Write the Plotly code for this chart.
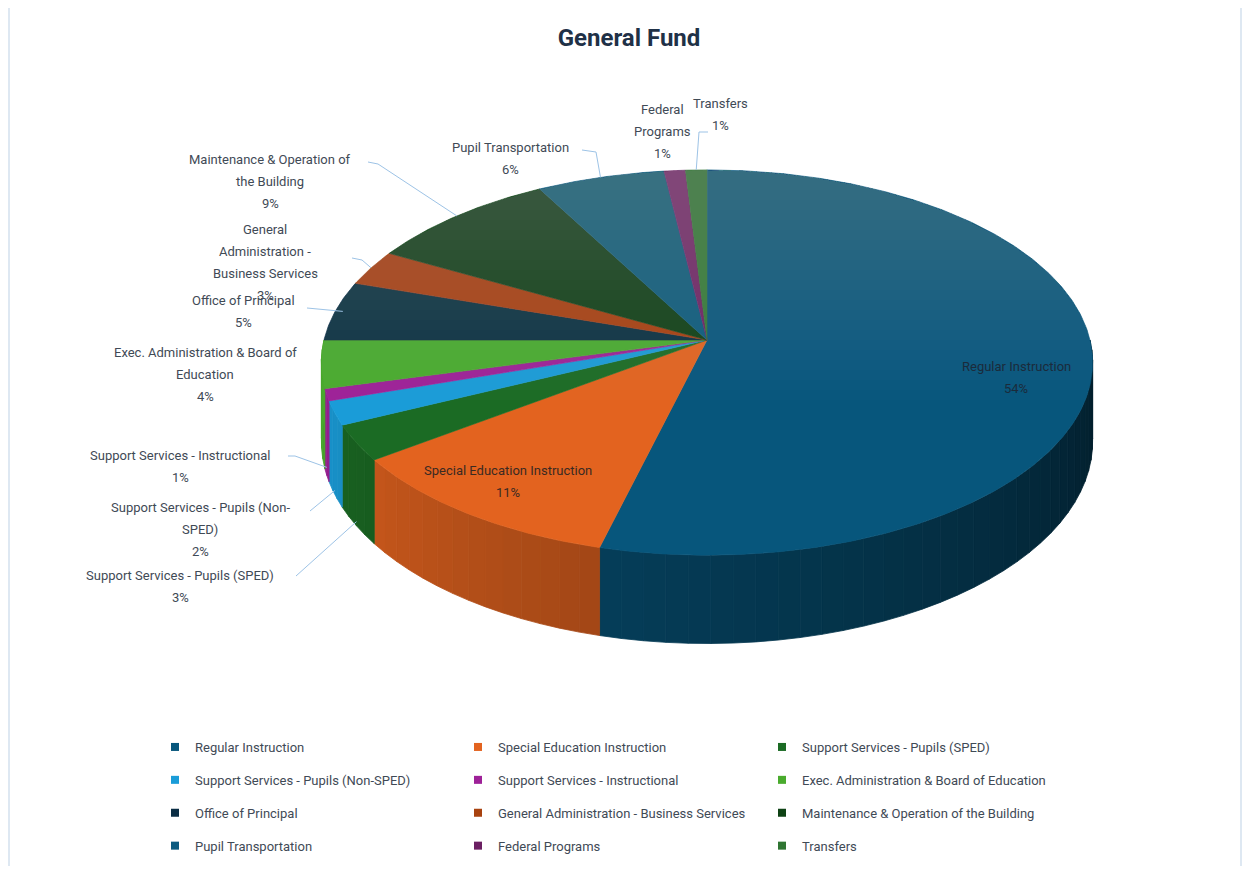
import numpy as np
import plotly.graph_objects as go

# ---------------- data ----------------
categories = [
    "Regular Instruction",
    "Special Education Instruction",
    "Support Services - Pupils (SPED)",
    "Support Services - Pupils (Non-SPED)",
    "Support Services - Instructional",
    "Exec. Administration & Board of Education",
    "Office of Principal",
    "General Administration - Business Services",
    "Maintenance & Operation of the Building",
    "Pupil Transportation",
    "Federal Programs",
    "Transfers",
]
percent_values = [54, 11, 3, 2, 1, 4, 5, 3, 9, 6, 1, 1]
slice_colors = [
    "#07567C", "#E3631F", "#1B6B24", "#1A9CD8", "#9E2198", "#4AAB2D",
    "#0A2D44", "#A8420F", "#0E4214", "#0B5A80", "#6B1F62", "#2F7532",
]
wrapped_labels = [
    "Regular Instruction",
    "Special Education Instruction",
    "Support Services - Pupils (SPED)",
    "Support Services - Pupils (Non-<br>SPED)",
    "Support Services - Instructional",
    "Exec. Administration & Board of<br>Education",
    "Office of Principal",
    "General<br>Administration -<br>Business Services",
    "Maintenance & Operation of<br>the Building",
    "Pupil Transportation",
    "Federal<br>Programs",
    "Transfers",
]
chart_title = "General Fund"

# ---------------- geometry / style (screen-pixel space) ----------------
OFF = 8                       # page body margin
FW, FH = 1234, 858            # figure size (fits window with the margins)
CX, CY = 707, 340             # apex of the pie
A, B = 383, 190               # horizontal / vertical radius
P = 0.117                     # perspective strength
DEPTH = 78                    # thickness of the 3D pie
FONT = "Roboto, 'Open Sans', sans-serif"
TEXT_COLOR = "#3F4A56"
LEADER_COLOR = "#9DC3E6"
LINE_GAP = 22


def px_x(px):
    return (px - OFF) / FW


def px_y(py):
    return 1 - (py - OFF) / FH


def proj(theta_deg, r=1.0, drop=0.0):
    t = np.radians(theta_deg)
    u = r * np.sin(t)
    v = r * np.cos(t)
    s = 1.0 / (1.0 + P * v)
    return CX + A * u * s, CY - B * v * s + drop * s


def shade(hexcol, f):
    h = hexcol.lstrip("#")
    rgb = [int(h[i:i + 2], 16) for i in (0, 2, 4)]
    rgb = [max(0, min(255, int(round(c * f)))) for c in rgb]
    return "rgb({},{},{})".format(*rgb)


def clip_above(xs, ys, yk):
    out_x, out_y = [], []
    n = len(xs)
    for j in range(n):
        x1, y1 = xs[j], ys[j]
        x0, y0 = xs[j - 1], ys[j - 1]
        in1, in0 = y1 <= yk, y0 <= yk
        if in1 != in0:
            t = (yk - y0) / (y1 - y0)
            out_x.append(x0 + t * (x1 - x0))
            out_y.append(yk)
        if in1:
            out_x.append(x1)
            out_y.append(y1)
    return out_x, out_y


vals = np.array(percent_values, dtype=float)
ends = np.cumsum(vals) / vals.sum() * 360.0
starts = np.concatenate([[0.0], ends[:-1]])
mids = (starts + ends) / 2

fig = go.Figure()

# side walls (front half only: 90..270 deg)
for i, (a0, a1) in enumerate(zip(starts, ends)):
    lo, hi = max(a0, 90.0), min(a1, 270.0)
    if hi <= lo:
        continue
    nb = max(1, int(np.ceil((hi - lo) / 3.0)))
    edges = np.linspace(lo, hi, nb + 1)
    for b0, b1 in zip(edges[:-1], edges[1:]):
        th = np.linspace(b0, b1, 8)
        tx, ty = proj(th)
        bx, by = proj(th[::-1], 1.0, DEPTH)
        xs = np.concatenate([tx, bx, tx[:1]])
        ys = np.concatenate([ty, by, ty[:1]])
        f = 0.33 + 0.0037 * ((b0 + b1) / 2 - 90)
        col = shade(slice_colors[i], f)
        fig.add_trace(go.Scatter(
            x=xs, y=ys, mode="lines", fill="toself", fillcolor=col,
            line=dict(color=col, width=0.8), hoverinfo="skip", showlegend=False))

# top faces
for i, (a0, a1) in enumerate(zip(starts, ends)):
    th = np.linspace(a0, a1, max(4, int((a1 - a0) * 2)))
    ax, ay = proj(th)
    xs = np.concatenate([[CX], ax, [CX]])
    ys = np.concatenate([[CY], ay, [CY]])
    fig.add_trace(go.Scatter(
        x=xs, y=ys, mode="lines", fill="toself", fillcolor=slice_colors[i],
        line=dict(color=slice_colors[i], width=0.6), hoverinfo="skip",
        showlegend=False, name=categories[i]))

# light vertical gradient on the top face (lighter towards the back)
rim_x, rim_y = proj(np.linspace(0, 360, 721))
for yk in np.arange(180, 401, 10):
    gx, gy = clip_above(list(rim_x), list(rim_y), yk)
    if len(gx) < 3:
        continue
    fig.add_trace(go.Scatter(
        x=gx + gx[:1], y=gy + gy[:1], mode="lines", fill="toself",
        fillcolor="rgba(175,180,190,0.014)", line=dict(width=0),
        hoverinfo="skip", showlegend=False))

# ---------------- data labels ----------------
label_spec = {
    0: dict(c=(1016, 377), color="#1B2B3B"),
    1: dict(c=(508, 481), color="#3A2A22"),
    2: dict(c=(180, 586), lead=[(296, 576)], end=(1.0, 0.95)),
    3: dict(c=(200, 529), lead=[(310, 511)], end=(1.0, 0.95)),
    4: dict(c=(180, 466), lead=[(288, 456), (295, 456)], end=(1.0, 0.9)),
    5: dict(c=(205, 374)),
    6: dict(c=(243, 311), lead=[(307, 308)], end=(0.98, 0.0)),
    7: dict(c=(265, 262), lead=[(352, 258), (362, 260)], end=(1.0, 0.0)),
    8: dict(c=(270, 181), lead=[(368, 162), (378, 164)], end=(1.0, 0.0)),
    9: dict(c=(510, 158), lead=[(582, 150), (596, 152)], end=(1.0, 0.0)),
    10: dict(c=(662, 131)),
    11: dict(c=(720, 114), lead=[(708, 132), (699, 132)], end=(1.0, 0.0)),
}

annotations = []
shapes = []
for i, spec in label_spec.items():
    lines = wrapped_labels[i].split("<br>") + ["{}%".format(percent_values[i])]
    cx, cy = spec["c"]
    n = len(lines)
    for k, txt in enumerate(lines):
        annotations.append(dict(
            x=cx, y=cy + (k - (n - 1) / 2) * LINE_GAP, xref="x", yref="y",
            text=txt, showarrow=False, xanchor="center", yanchor="middle",
            font=dict(family=FONT, size=13, color=spec.get("color", TEXT_COLOR))))
    if "lead" in spec:
        r, dfrac = spec["end"]
        ex, ey = proj(mids[i], r, dfrac * DEPTH)
        pts = spec["lead"] + [(float(ex), float(ey))]
        path = "M {} {} ".format(*pts[0]) + " ".join("L {} {}".format(px, py) for px, py in pts[1:])
        shapes.append(dict(type="path", path=path, xref="x", yref="y",
                           line=dict(color=LEADER_COLOR, width=1)))

# chart border
shapes.append(dict(type="rect", xref="x", yref="y", x0=9, y0=4.5, x1=1241, y1=900,
                   line=dict(color="#C9D9EA", width=1.2), layer="below"))

# ---------------- legend (3 columns) ----------------
legend_names = ["legend", "legend2", "legend3"]
for i, cat in enumerate(categories):
    fig.add_trace(go.Scatter(
        x=[None], y=[None], mode="markers", name=cat,
        marker=dict(symbol="square", size=8, color=slice_colors[i]),
        legend=legend_names[i % 3], legendgroup=cat, showlegend=True))

leg_common = dict(
    orientation="v", yanchor="top", xanchor="left", y=px_y(732),
    font=dict(family=FONT, size=13, color=TEXT_COLOR),
    bgcolor="rgba(0,0,0,0)", tracegroupgap=13, itemwidth=30,
)
fig.update_layout(
    legend=dict(x=px_x(155), **leg_common),
    legend2=dict(x=px_x(458), **leg_common),
    legend3=dict(x=px_x(762), **leg_common),
)

fig.update_layout(
    width=FW, height=FH,
    margin=dict(l=0, r=0, t=0, b=0),
    paper_bgcolor="white", plot_bgcolor="white",
    xaxis=dict(range=[OFF, OFF + FW], visible=False, fixedrange=True),
    yaxis=dict(range=[OFF + FH, OFF], visible=False, fixedrange=True),
    title=dict(text="<b>{}</b>".format(chart_title), x=px_x(629), y=px_y(38),
               xanchor="center", yanchor="middle",
               font=dict(family=FONT, size=24, color="#1F3147")),
    annotations=annotations,
    shapes=shapes,
    showlegend=True,
)

fig.write_html("out.html")
